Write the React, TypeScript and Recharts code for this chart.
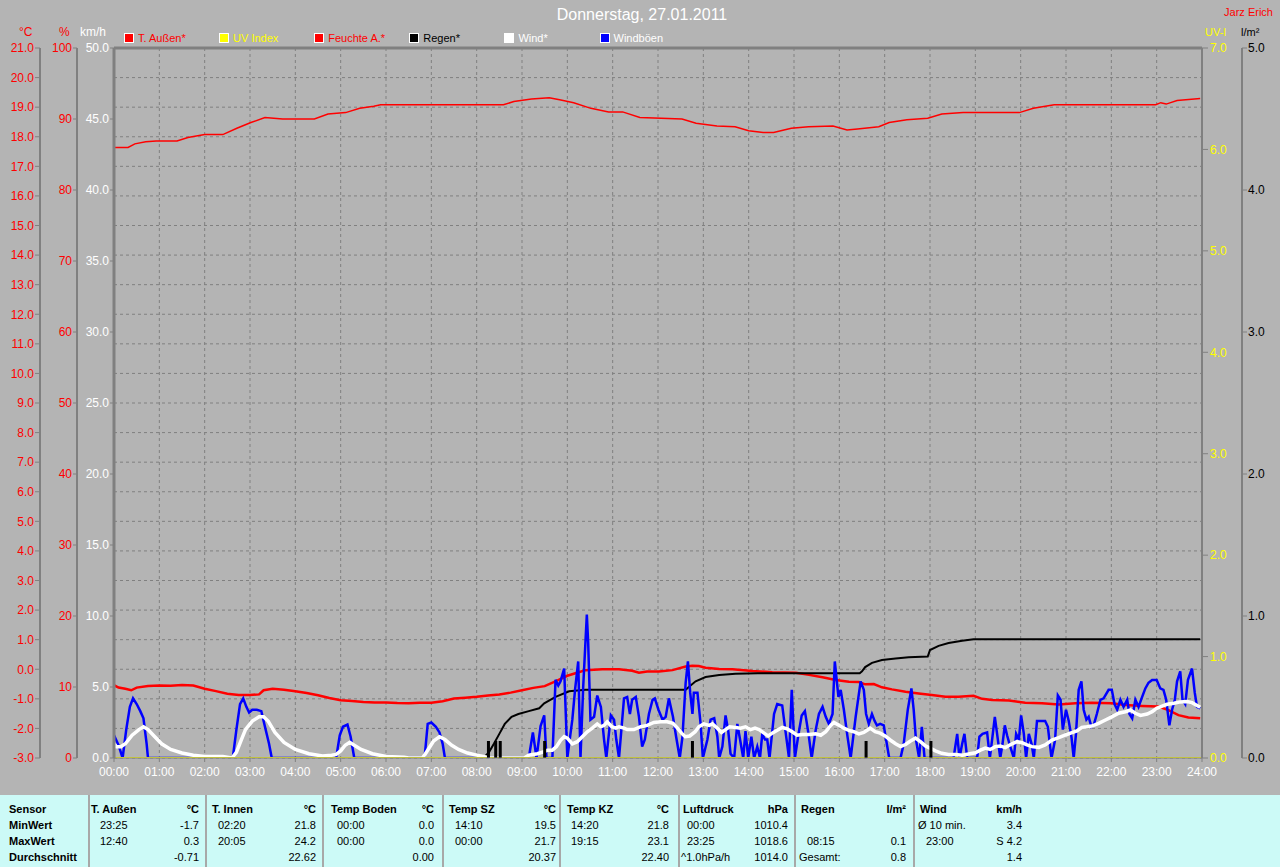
import React from 'react';
import { ComposedChart, Line, XAxis, YAxis, CartesianGrid, ReferenceLine } from 'recharts';

// [hour, value] readings taken from the reference chart
const tempOut: [number, number][] = [
  [0, -0.54], [0.1, -0.62], [0.25, -0.66], [0.38, -0.71], [0.5, -0.62], [0.75, -0.57], [1.0, -0.55], [1.25, -0.56],
  [1.5, -0.53], [1.75, -0.55], [2.0, -0.66], [2.25, -0.74], [2.5, -0.83], [2.75, -0.87], [3.0, -0.87], [3.2, -0.85],
  [3.3, -0.71], [3.5, -0.66], [3.75, -0.69], [4.0, -0.74], [4.25, -0.8], [4.5, -0.88], [4.75, -0.97], [5.0, -1.05],
  [5.25, -1.07], [5.5, -1.11], [5.75, -1.12], [6.0, -1.12], [6.25, -1.14], [6.5, -1.15], [6.75, -1.13], [7.0, -1.13],
  [7.25, -1.08], [7.5, -0.99], [7.75, -0.96], [8.0, -0.93], [8.25, -0.89], [8.5, -0.85], [8.75, -0.79], [9.0, -0.71],
  [9.25, -0.63], [9.5, -0.57], [9.75, -0.4], [10.0, -0.22], [10.25, -0.1], [10.4, -0.03], [10.77, 0.0], [11.14, 0.0],
  [11.43, -0.05], [11.58, -0.12], [11.76, -0.08], [12.02, -0.08], [12.32, -0.03], [12.61, 0.09], [12.76, 0.12],
  [12.9, 0.11], [13.05, 0.05], [13.35, 0.01], [13.64, 0.0], [14.08, -0.06], [14.52, -0.1], [15.04, -0.12],
  [15.33, -0.19], [15.63, -0.27], [15.92, -0.36], [16.21, -0.42], [16.43, -0.43], [16.57, -0.51], [16.76, -0.5],
  [16.94, -0.61], [17.16, -0.68], [17.46, -0.76], [17.75, -0.82], [18.04, -0.87], [18.34, -0.93], [18.63, -0.93],
  [18.96, -0.9], [19.15, -1.0], [19.37, -1.04], [19.74, -1.06], [20.1, -1.13], [20.47, -1.15], [20.84, -1.19],
  [21.21, -1.15], [21.57, -1.13], [22.01, -1.15], [22.31, -1.21], [22.68, -1.24], [23.04, -1.26], [23.26, -1.38],
  [23.48, -1.55], [23.7, -1.63], [23.96, -1.66],
];

const humidity: [number, number][] = [
  [0, 86.0], [0.31, 86.0], [0.46, 86.5], [0.7, 86.8], [0.93, 86.9], [1.39, 86.9], [1.63, 87.4], [2.0, 87.8],
  [2.4, 87.8], [2.71, 88.7], [3.02, 89.5], [3.33, 90.2], [3.72, 90.0], [4.42, 90.0], [4.72, 90.7], [5.11, 90.9],
  [5.42, 91.5], [5.73, 91.8], [5.88, 92.0], [8.59, 92.0], [8.82, 92.45], [9.21, 92.8], [9.6, 93.0], [9.83, 92.7],
  [10.14, 92.3], [10.52, 91.5], [10.91, 91.0], [11.22, 91.0], [11.6, 90.2], [12.07, 90.1], [12.53, 90.0],
  [12.84, 89.4], [13.3, 89.0], [13.7, 88.9], [14.0, 88.35], [14.32, 88.1], [14.55, 88.1], [14.94, 88.7],
  [15.32, 88.9], [15.86, 89.0], [16.17, 88.45], [16.4, 88.6], [16.87, 88.9], [17.1, 89.5], [17.49, 89.9],
  [17.95, 90.1], [18.26, 90.7], [18.73, 90.9], [19.97, 90.9], [20.28, 91.5], [20.74, 92.0], [22.98, 92.0],
  [23.09, 92.3], [23.21, 92.1], [23.45, 92.6], [23.96, 92.9],
];

const uvIndex: [number, number][] = [[0, 0], [24, 0]];

const rainTotal: [number, number][] = [
  [8.15, 0], [8.27, 0.04], [8.38, 0.1], [8.5, 0.17], [8.62, 0.24], [8.77, 0.29], [8.92, 0.31], [9.15, 0.33],
  [9.38, 0.35], [9.49, 0.385], [9.74, 0.43], [10.04, 0.47], [10.4, 0.48], [12.61, 0.48], [12.68, 0.5],
  [12.83, 0.54], [13.05, 0.57], [13.35, 0.585], [13.71, 0.594], [14.2, 0.597], [16.45, 0.597], [16.5, 0.61],
  [16.57, 0.64], [16.72, 0.67], [16.94, 0.69], [17.24, 0.7], [17.53, 0.71], [17.95, 0.714], [18.0, 0.76],
  [18.19, 0.79], [18.41, 0.81], [18.71, 0.826], [18.96, 0.836], [23.96, 0.836],
];

const rainBars: [number, number][] = [
  [8.26, 0.12], [8.42, 0.12], [8.52, 0.12], [9.5, 0.12], [12.76, 0.12], [16.59, 0.12], [18.02, 0.12],
];

const wind: [number, number][] = [
  [0, 1.0], [0.05, 0.8], [0.15, 0.8], [0.25, 1.0], [0.4, 1.6], [0.55, 2.0], [0.65, 2.2], [0.75, 2.0], [0.9, 1.5],
  [1.05, 1.0], [1.25, 0.6], [1.5, 0.35], [1.75, 0.2], [2.0, 0.1], [2.4, 0.1], [2.6, 0], [2.7, 0.4], [2.8, 1.2],
  [2.9, 2.0], [3.05, 2.6], [3.2, 2.9], [3.3, 2.9], [3.4, 2.6], [3.55, 1.8], [3.75, 1.1], [4.0, 0.6], [4.3, 0.3],
  [4.6, 0.15], [4.8, 0.2], [4.9, 0.25], [5.0, 0.5], [5.1, 0.9], [5.2, 1.1], [5.3, 0.9], [5.45, 0.6], [5.7, 0.3],
  [6.0, 0.1], [6.4, 0.05], [6.5, 0], [6.8, 0], [6.85, 0.2], [6.95, 0.7], [7.05, 1.2], [7.18, 1.5], [7.3, 1.3],
  [7.45, 0.9], [7.6, 0.6], [7.8, 0.35], [8.0, 0.2], [8.15, 0.1], [8.3, 0], [9.05, 0], [9.15, 0.2], [9.34, 0.3],
  [9.49, 0.45], [9.56, 0.55], [9.67, 0.55], [9.76, 0.8], [9.85, 1.25], [9.93, 1.5], [10.0, 1.4], [10.11, 1.0],
  [10.22, 1.15], [10.33, 1.5], [10.44, 1.85], [10.55, 2.1], [10.66, 2.4], [10.74, 2.2], [10.81, 2.3], [10.88, 2.55],
  [10.98, 2.2], [11.07, 2.1], [11.14, 2.2], [11.25, 2.1], [11.32, 2.0], [11.47, 2.0], [11.62, 2.2], [11.76, 2.3],
  [11.91, 2.5], [12.06, 2.55], [12.2, 2.55], [12.33, 2.45], [12.43, 2.1], [12.52, 1.75], [12.6, 1.5], [12.7, 1.55],
  [12.82, 1.85], [12.9, 2.2], [13.01, 2.4], [13.13, 2.3], [13.2, 2.4], [13.31, 2.1], [13.4, 1.8], [13.49, 2.0],
  [13.58, 2.2], [13.71, 2.15], [13.82, 2.1], [13.93, 2.2], [14.04, 2.0], [14.14, 2.1], [14.23, 2.0], [14.34, 1.75],
  [14.43, 1.55], [14.52, 1.75], [14.63, 1.95], [14.74, 2.15], [14.85, 2.05], [14.96, 1.85], [15.07, 1.6],
  [15.18, 1.65], [15.33, 1.65], [15.48, 1.7], [15.59, 1.6], [15.7, 1.85], [15.81, 2.3], [15.88, 2.5], [15.99, 2.3],
  [16.1, 2.1], [16.21, 1.95], [16.32, 1.85], [16.43, 1.7], [16.54, 1.8], [16.68, 2.1], [16.79, 1.85], [16.9, 1.75],
  [17.01, 1.55], [17.13, 1.25], [17.24, 1.0], [17.35, 0.8], [17.46, 0.95], [17.57, 1.2], [17.68, 1.4], [17.79, 1.15],
  [17.9, 0.85], [18.0, 0.7], [18.12, 0.5], [18.26, 0.33], [18.41, 0.25], [18.56, 0.25], [18.71, 0.2], [18.85, 0.28],
  [19.0, 0.37], [19.11, 0.55], [19.22, 0.7], [19.33, 0.6], [19.44, 0.8], [19.55, 0.85], [19.66, 0.73], [19.81, 1.0],
  [19.92, 1.15], [20.03, 1.08], [20.14, 0.92], [20.25, 0.8], [20.4, 0.75], [20.54, 0.92], [20.69, 1.27],
  [20.84, 1.43], [20.99, 1.62], [21.13, 1.78], [21.24, 1.9], [21.35, 2.16], [21.46, 2.2], [21.57, 2.25],
  [21.72, 2.44], [21.87, 2.68], [22.01, 2.9], [22.16, 3.15], [22.31, 3.26], [22.42, 3.38], [22.53, 3.15],
  [22.64, 3.0], [22.79, 3.1], [22.9, 3.26], [23.0, 3.5], [23.12, 3.66], [23.23, 3.78], [23.38, 3.85], [23.52, 3.95],
  [23.67, 3.97], [23.78, 3.9], [23.89, 3.7], [23.96, 3.57],
];

const gusts: [number, number][] = [
  [0, 1.6], [0.1, 0.9], [0.19, 0], [0.27, 2.0], [0.35, 3.6], [0.42, 4.2], [0.5, 3.8], [0.58, 3.3], [0.65, 2.8],
  [0.72, 1.0], [0.75, 0], [2.62, 0], [2.7, 2.0], [2.78, 3.8], [2.85, 4.2], [2.92, 3.6], [2.98, 3.2], [3.05, 3.4],
  [3.15, 3.4], [3.25, 3.3], [3.33, 2.2], [3.42, 1.0], [3.48, 0], [4.9, 0], [4.98, 1.6], [5.05, 2.2], [5.15, 2.35],
  [5.22, 1.5], [5.3, 0], [6.85, 0], [6.92, 2.4], [7.0, 2.5], [7.1, 2.2], [7.18, 1.8], [7.25, 1.0], [7.3, 0],
  [9.15, 0], [9.24, 1.8], [9.32, 0], [9.41, 2.25], [9.49, 3.0], [9.54, 0], [9.67, 0], [9.74, 5.5], [9.8, 5.1],
  [9.85, 5.4], [9.93, 6.3], [10.0, 0], [10.11, 2.7], [10.17, 4.8], [10.24, 6.8], [10.29, 0], [10.35, 5.0],
  [10.43, 10.1], [10.46, 8.1], [10.51, 2.7], [10.59, 2.9], [10.66, 4.4], [10.74, 3.6], [10.81, 1.3], [10.86, 0],
  [10.96, 3.0], [11.03, 2.7], [11.08, 1.3], [11.14, 0], [11.25, 4.2], [11.32, 4.3], [11.38, 3.1], [11.43, 4.1],
  [11.51, 4.3], [11.58, 2.9], [11.65, 0.8], [11.71, 1.3], [11.8, 3.1], [11.88, 4.1], [11.93, 4.2], [12.01, 3.4],
  [12.1, 2.7], [12.17, 2.9], [12.24, 4.2], [12.33, 2.9], [12.4, 1.5], [12.48, 0], [12.54, 1.5], [12.61, 5.3],
  [12.66, 6.8], [12.71, 4.6], [12.76, 3.1], [12.79, 4.6], [12.87, 4.6], [12.94, 2.4], [12.99, 0], [13.09, 1.3],
  [13.16, 2.7], [13.24, 2.8], [13.31, 1.5], [13.35, 0], [13.42, 0.8], [13.49, 3.0], [13.55, 1.9], [13.6, 0.3],
  [13.68, 0], [13.75, 2.4], [13.81, 1.3], [13.88, 0], [13.93, 1.9], [13.99, 0], [14.06, 1.5], [14.12, 0],
  [14.19, 0.8], [14.25, 0], [14.3, 1.7], [14.36, 1.3], [14.41, 1.3], [14.46, 0], [14.56, 3.1], [14.63, 3.8],
  [14.74, 3.7], [14.82, 1.7], [14.89, 0], [14.95, 4.8], [15.02, 0], [15.1, 1.7], [15.17, 3.0], [15.24, 3.3],
  [15.32, 1.7], [15.39, 0], [15.48, 2.0], [15.55, 3.1], [15.63, 3.6], [15.7, 2.9], [15.77, 2.4], [15.85, 3.1],
  [15.9, 6.8], [15.98, 4.3], [16.03, 4.8], [16.1, 3.4], [16.18, 1.5], [16.25, 0], [16.36, 2.9], [16.47, 5.4],
  [16.54, 4.8], [16.59, 3.1], [16.65, 2.4], [16.72, 3.1], [16.78, 2.6], [16.83, 2.3], [16.9, 2.4], [16.98, 2.3],
  [17.01, 1.7], [17.1, 0], [17.35, 0], [17.42, 1.0], [17.51, 3.4], [17.59, 4.9], [17.64, 3.4], [17.69, 1.3],
  [17.76, 0], [17.82, 2.2], [17.88, 0], [18.52, 0], [18.6, 1.7], [18.65, 0], [18.71, 1.0], [18.76, 1.7],
  [18.82, 0], [19.04, 0], [19.09, 1.5], [19.16, 1.7], [19.26, 1.8], [19.32, 0], [19.37, 1.3], [19.43, 2.9],
  [19.48, 1.7], [19.55, 0], [19.6, 1.0], [19.65, 2.3], [19.7, 1.6], [19.77, 0.8], [19.85, 0], [19.9, 1.7],
  [19.96, 1.3], [20.01, 3.0], [20.07, 1.7], [20.12, 0], [20.18, 1.7], [20.24, 1.0], [20.29, 0], [20.36, 2.6],
  [20.46, 2.6], [20.54, 2.6], [20.6, 2.2], [20.68, 0], [20.76, 1.3], [20.82, 4.4], [20.88, 4.1], [20.93, 2.0],
  [21.0, 3.4], [21.06, 2.6], [21.12, 1.5], [21.17, 0], [21.22, 1.7], [21.28, 4.8], [21.34, 5.4], [21.39, 3.4],
  [21.45, 2.7], [21.5, 2.9], [21.56, 2.2], [21.61, 2.3], [21.68, 3.1], [21.76, 4.1], [21.83, 4.2], [21.94, 4.8],
  [22.01, 4.8], [22.07, 3.8], [22.13, 3.4], [22.2, 4.1], [22.27, 3.6], [22.35, 4.1], [22.4, 3.1], [22.46, 2.8],
  [22.53, 4.1], [22.6, 3.6], [22.68, 4.3], [22.75, 4.9], [22.82, 5.3], [22.9, 5.5], [23.0, 5.5], [23.08, 4.9],
  [23.15, 4.8], [23.21, 4.1], [23.28, 2.3], [23.34, 3.4], [23.4, 4.1], [23.45, 5.4], [23.52, 6.1], [23.57, 4.1],
  [23.63, 3.8], [23.69, 5.5], [23.78, 6.3], [23.84, 4.6], [23.89, 3.6], [23.96, 3.5],
];

const hourTicks = [0, 1, 2, 3, 4, 5, 6, 7, 8, 9, 10, 11, 12, 13, 14, 15, 16, 17, 18, 19, 20, 21, 22, 23, 24];
const tempTicks = [-3, -2, -1, 0, 1, 2, 3, 4, 5, 6, 7, 8, 9, 10, 11, 12, 13, 14, 15, 16, 17, 18, 19, 20, 21];
const humTicks = [0, 10, 20, 30, 40, 50, 60, 70, 80, 90, 100];
const kmhTicks = [0, 5, 10, 15, 20, 25, 30, 35, 40, 45, 50];
const uvTicks = [0, 1, 2, 3, 4, 5, 6, 7];
const rainTicks = [0, 1, 2, 3, 4, 5];

const legendItems = [
  { label: 'T. Außen*', fill: '#ff0000', text: '#ff0000' },
  { label: 'UV Index', fill: '#ffff00', text: '#ffff00' },
  { label: 'Feuchte A.*', fill: '#ff0000', text: '#ff0000' },
  { label: 'Regen*', fill: '#000000', text: '#000000' },
  { label: 'Wind*', fill: '#ffffff', text: '#ffffff' },
  { label: 'Windböen', fill: '#0000ff', text: '#ffffff' },
];

// stats table
const rowLabels = ['Sensor', 'MinWert', 'MaxWert', 'Durchschnitt'];
const tableCols = [
  { title: 'T. Außen', unit: '°C', rows: [['23:25', '-1.7'], ['12:40', '0.3'], ['', '-0.71']] },
  { title: 'T. Innen', unit: '°C', rows: [['02:20', '21.8'], ['20:05', '24.2'], ['', '22.62']] },
  { title: 'Temp Boden', unit: '°C', rows: [['00:00', '0.0'], ['00:00', '0.0'], ['', '0.00']] },
  { title: 'Temp SZ', unit: '°C', rows: [['14:10', '19.5'], ['00:00', '21.7'], ['', '20.37']] },
  { title: 'Temp KZ', unit: '°C', rows: [['14:20', '21.8'], ['19:15', '23.1'], ['', '22.40']] },
  { title: 'Luftdruck', unit: 'hPa', rows: [['00:00', '1010.4'], ['23:25', '1018.6'], ['^1.0hPa/h', '1014.0']] },
  { title: 'Regen', unit: 'l/m²', rows: [['', ''], ['08:15', '0.1'], ['Gesamt:', '0.8']] },
  { title: 'Wind', unit: 'km/h', rows: [['Ø 10 min.', '3.4'], ['23:00', 'S 4.2'], ['', '1.4']] },
];
const colLeft = [91, 212, 331, 449, 567, 683, 801, 920];
const colRight = [199, 316, 434, 556, 669, 788, 906, 1022];
const colTime = [100, 218, 337, 455, 571, 687, 807, 926];
const colSep = [88, 205, 322, 442, 559, 678, 794, 913];
const rowY = [809, 825, 841, 857];

const GRAY = '#b4b4b4';
const AXIS = '#808080';

const pts = (a: [number, number][]) => a.map(([t, v]) => ({ t, v }));
const hh = (h: number) => `${String(h).padStart(2, '0')}:00`;

// axis ids sorted so that a* sits next to the plot, b* and c* further out
const KMH = 'a_kmh';
const HUM = 'b_hum';
const TEMP = 'c_temp';
const UV = 'a_uv';
const RAIN = 'b_rain';

export default function App() {
  const rainBarPts = rainBars.flatMap(([t, v]) => [{ t, v: 0 }, { t, v }, { t, v: null }]);
  const abs = (extra: React.CSSProperties): React.CSSProperties => ({ position: 'absolute', whiteSpace: 'nowrap', ...extra });

  return (
    <div style={{ position: 'absolute', left: 0, top: 0, width: 1280, height: 867, background: GRAY, overflow: 'hidden', fontFamily: '"Liberation Sans", Arial, sans-serif' }}>
      <ComposedChart width={1280} height={790} margin={{ top: 48, right: 0, bottom: 7, left: 0 }}>
        <CartesianGrid yAxisId={TEMP} stroke={AXIS} strokeDasharray="3 3" />
        <XAxis type="number" dataKey="t" domain={[0, 24]} ticks={hourTicks} interval={0} tickFormatter={hh}
          height={25} tickSize={4} tickMargin={5} axisLine={{ stroke: AXIS }} tickLine={{ stroke: AXIS }}
          tick={{ fill: '#ffffff', fontSize: 12 }} allowDataOverflow />
        <YAxis yAxisId={KMH} orientation="left" width={37} domain={[0, 50]} ticks={kmhTicks} interval={0}
          tickFormatter={(v: number) => v.toFixed(1)} tickSize={4} tickMargin={1}
          axisLine={{ stroke: AXIS, strokeWidth: 3 }} tickLine={{ stroke: AXIS }} tick={{ fill: '#ffffff', fontSize: 12 }} allowDataOverflow />
        <YAxis yAxisId={HUM} orientation="left" width={37} domain={[0, 100]} ticks={humTicks} interval={0}
          tickSize={4} tickMargin={1} axisLine={{ stroke: AXIS, strokeWidth: 2 }} tickLine={{ stroke: AXIS }}
          tick={{ fill: '#ff0000', fontSize: 12 }} allowDataOverflow />
        <YAxis yAxisId={TEMP} orientation="left" width={40} domain={[-3, 21]} ticks={tempTicks} interval={0}
          tickFormatter={(v: number) => v.toFixed(1)} tickSize={5} tickMargin={1}
          axisLine={{ stroke: AXIS, strokeWidth: 2 }} tickLine={{ stroke: AXIS }} tick={{ fill: '#ff0000', fontSize: 12 }} allowDataOverflow />
        <YAxis yAxisId={UV} orientation="right" width={40} domain={[0, 7]} ticks={uvTicks} interval={0}
          tickFormatter={(v: number) => v.toFixed(1)} tickSize={6} tickMargin={2}
          axisLine={{ stroke: AXIS, strokeWidth: 2 }} tickLine={{ stroke: AXIS }} tick={{ fill: '#ffff00', fontSize: 12 }} allowDataOverflow />
        <YAxis yAxisId={RAIN} orientation="right" width={38} domain={[0, 5]} ticks={rainTicks} interval={0}
          tickFormatter={(v: number) => v.toFixed(1)} tickSize={5} tickMargin={1}
          axisLine={{ stroke: AXIS, strokeWidth: 2 }} tickLine={{ stroke: AXIS }} tick={{ fill: '#000000', fontSize: 12 }} allowDataOverflow />

        <ReferenceLine yAxisId={TEMP} y={21} stroke={AXIS} strokeWidth={3} />
        <ReferenceLine yAxisId={TEMP} x={24} stroke={AXIS} strokeWidth={2} />

        <Line yAxisId={HUM} data={pts(humidity)} dataKey="v" stroke="#ff0000" strokeWidth={1.5} dot={false} activeDot={false} isAnimationActive={false} />
        <Line yAxisId={TEMP} data={pts(tempOut)} dataKey="v" stroke="#ff0000" strokeWidth={2.5} dot={false} activeDot={false} isAnimationActive={false} />
        <Line yAxisId={RAIN} data={pts(rainTotal)} dataKey="v" stroke="#000000" strokeWidth={2} dot={false} activeDot={false} isAnimationActive={false} />
        <Line yAxisId={KMH} data={pts(gusts)} dataKey="v" stroke="#0000ff" strokeWidth={2.5} dot={false} activeDot={false} isAnimationActive={false} />
        <Line yAxisId={KMH} data={pts(wind)} dataKey="v" stroke="#ffffff" strokeWidth={3.5} dot={false} activeDot={false} isAnimationActive={false} />
        <Line yAxisId={UV} data={pts(uvIndex)} dataKey="v" stroke="#ffff00" strokeWidth={2} dot={false} activeDot={false} isAnimationActive={false} />
        <Line yAxisId={RAIN} data={rainBarPts} dataKey="v" stroke="#000000" strokeWidth={3} strokeLinecap="butt"
          dot={false} activeDot={false} connectNulls={false} isAnimationActive={false} />
      </ComposedChart>

      <div style={abs({ left: 0, width: 1284, top: 5, textAlign: 'center', color: '#ffffff', fontSize: 16, lineHeight: '20px' })}>Donnerstag, 27.01.2011</div>
      <div style={abs({ right: 7, top: 5, color: '#ff0000', fontSize: 11, lineHeight: '14px' })}>Jarz Erich</div>

      <div style={abs({ left: 19, top: 25, color: '#ff0000', fontSize: 12, lineHeight: '14px' })}>°C</div>
      <div style={abs({ left: 59, top: 25, color: '#ff0000', fontSize: 12, lineHeight: '14px' })}>%</div>
      <div style={abs({ left: 80, top: 25, color: '#ffffff', fontSize: 12, lineHeight: '14px' })}>km/h</div>
      <div style={abs({ left: 1205, top: 25, color: '#ffff00', fontSize: 11, lineHeight: '14px' })}>UV-I</div>
      <div style={abs({ left: 1241, top: 25, color: '#000000', fontSize: 11, lineHeight: '14px' })}>l/m²</div>

      {legendItems.map((item, i) => (
        <div key={item.label} style={abs({ left: 124 + i * 95.1, top: 31, height: 14, display: 'flex', alignItems: 'center' })}>
          <div style={{ width: 8, height: 8, border: '1px solid #ffffff', background: item.fill }} />
          <span style={{ marginLeft: 4, color: item.text, fontSize: 11, lineHeight: '14px' }}>{item.label}</span>
        </div>
      ))}

      <div style={abs({ left: 0, top: 795, width: 1280, height: 72, background: '#ccfaf7', fontSize: 11, color: '#000000' })}>
        {colSep.map((x) => (
          <div key={x} style={abs({ left: x, top: 0, width: 2, height: 72, background: '#a8a8a8' })} />
        ))}
        {rowLabels.map((r, i) => (
          <div key={r} style={abs({ left: 9, top: rowY[i] - 795 - 7, lineHeight: '14px', fontWeight: 'bold' })}>{r}</div>
        ))}
        {tableCols.map((c, ci) => (
          <React.Fragment key={c.title}>
            <div style={abs({ left: colLeft[ci], top: rowY[0] - 802, lineHeight: '14px', fontWeight: 'bold' })}>{c.title}</div>
            <div style={abs({ left: colRight[ci] - 60, width: 60, textAlign: 'right', top: rowY[0] - 802, lineHeight: '14px', fontWeight: 'bold' })}>{c.unit}</div>
            {c.rows.map(([label, value], ri) => (
              <React.Fragment key={ri}>
                {label && (
                  <div style={abs({ left: /^\d\d:\d\d$/.test(label) ? colTime[ci] : colLeft[ci] - 2, top: rowY[ri + 1] - 802, lineHeight: '14px' })}>{label}</div>
                )}
                {value && (
                  <div style={abs({ left: colRight[ci] - 60, width: 60, textAlign: 'right', top: rowY[ri + 1] - 802, lineHeight: '14px' })}>{value}</div>
                )}
              </React.Fragment>
            ))}
          </React.Fragment>
        ))}
      </div>
    </div>
  );
}
